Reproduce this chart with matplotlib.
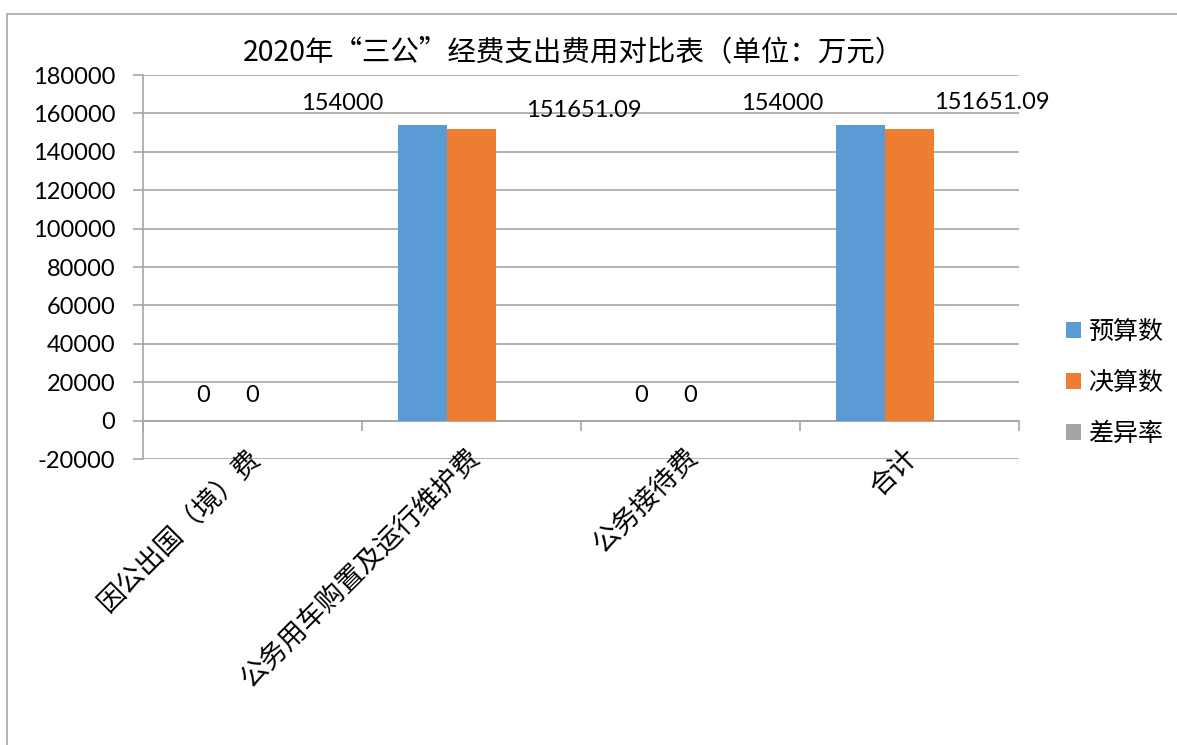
import numpy as np
import matplotlib.pyplot as plt
from matplotlib.patches import Rectangle
from matplotlib.transforms import blended_transform_factory, offset_copy

plt.rcParams['font.family'] = ['Lato', 'Noto Sans CJK SC', 'DejaVu Sans']
cjk = ['Noto Sans CJK SC', 'DejaVu Sans']

categories = ['因公出国（境）费', '公务用车购置及运行维护费', '公务接待费', '合计']
series_names = ['预算数', '决算数', '差异率']
budget = [0, 154000, 0, 154000]
final = [0, 151651.09, 0, 151651.09]
diff_rate = [0, 0, 0, 0]
budget_labels = ['0', '154000', '0', '154000']
final_labels = ['0', '151651.09', '0', '151651.09']
y_ticks = list(range(-20000, 180001, 20000))

colors = ['#5B9BD5', '#ED7D31', '#A5A5A5']
# label offsets in pixels (excel data labels were dragged around by hand)
budget_off = [(0, 25), (-80, 21), (0, 25), (-78, 21)]
final_off = [(0, 25), (112, 19), (0, 25), (82, 27)]

W, H = 1177, 745
fig = plt.figure(figsize=(W / 100, H / 100), dpi=100)
fig.patches.append(Rectangle((7 / W, -0.01), 1.02, 1 - 14 / H + 0.01,
                             transform=fig.transFigure, fill=False,
                             edgecolor='#A6A6A6', linewidth=1.2))

ax = fig.add_axes([143 / W, 1 - 459 / H, (1019 - 143) / W, (459 - 75) / H])

x = np.arange(len(categories))
bw = 49 / 219
for i, (vals, c, name) in enumerate(zip([budget, final, diff_rate], colors, series_names)):
    ax.bar(x + (i - 1) * bw, vals, width=bw, color=c, label=name, zorder=3)

for i in range(len(categories)):
    for vals, labs, offs, k in [(budget, budget_labels, budget_off, -1),
                                (final, final_labels, final_off, 0)]:
        ax.annotate(labs[i], (x[i] + k * bw, vals[i]), xytext=offs[i],
                    textcoords='offset pixels', ha='center', va='center',
                    fontsize=17, color='#000000')

ax.set_xlim(-0.5, len(categories) - 0.5)
ax.set_ylim(-20000, 180000)
ax.set_yticks(y_ticks)
ax.set_yticklabels([str(v) for v in y_ticks], fontsize=17)
ax.yaxis.grid(True, color='#A6A6A6', linewidth=1.2, zorder=0)
ax.tick_params(axis='y', length=7, color='#A6A6A6', width=1.2, pad=13)

ax.spines['bottom'].set_position(('data', 0))
for s in ['top', 'right']:
    ax.spines[s].set_visible(False)
for s in ['bottom', 'left']:
    ax.spines[s].set_color('#A6A6A6')
    ax.spines[s].set_linewidth(1.2)
ax.set_xticks(np.arange(len(categories) + 1) - 0.5)
ax.set_xticklabels([])
ax.tick_params(axis='x', length=7, color='#A6A6A6', width=1.2, direction='out')

trans = blended_transform_factory(ax.transData, ax.transAxes)
trans = offset_copy(trans, fig=fig, x=4, y=6, units='dots')
for i, cat in enumerate(categories):
    ax.text(x[i], 0, cat, transform=trans, rotation=45, rotation_mode='anchor',
            ha='right', va='center', fontsize=19.5, family=cjk)

fig.text(574 / W, 1 - 52 / H, '2020年“三公”经费支出费用对比表（单位：万元）',
         ha='center', va='center', fontsize=20.5, family=cjk)

leg = ax.legend(loc='center left', bbox_to_anchor=(1043 / W, 1 - 383 / H),
                bbox_transform=fig.transFigure, frameon=False,
                prop={'family': cjk, 'size': 18},
                handlelength=0.6, handleheight=0.6, handletextpad=0.3,
                labelspacing=1.0)

fig.savefig('out.png', dpi=100)
